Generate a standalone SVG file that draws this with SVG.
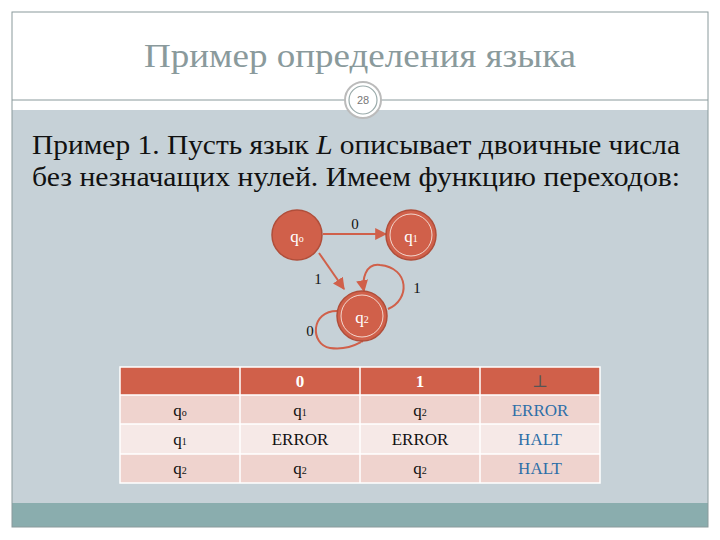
<svg xmlns="http://www.w3.org/2000/svg" width="720" height="540" viewBox="0 0 720 540">
<defs>
<style>
.s{font-family:"Liberation Serif","DejaVu Serif",serif}
.st{fill:#d0604a;stroke:#b04e3a;stroke-width:1.5}
.nl{fill:#fff;font-size:17px;text-anchor:middle}
.ed{fill:none;stroke:#d0604a;stroke-width:2}
.el{font-size:15px;fill:#111;text-anchor:middle}
.tc{font-size:17px;text-anchor:middle;fill:#111}
</style>
<marker id="a" viewBox="0 0 10 10" refX="9" refY="5" markerWidth="6" markerHeight="6" orient="auto"><path d="M0,0L10,5L0,10z" fill="#d0604a"/></marker>
</defs>
<rect width="720" height="540" fill="#fff"/>
<rect x="12" y="110" width="696" height="393" fill="#c6d1d7"/>
<rect x="12" y="503" width="696" height="24" fill="#8aadae"/>
<rect x="12" y="12" width="696" height="515" fill="none" stroke="#8a9a9c" stroke-width="1"/>
<line x1="12" y1="100" x2="708" y2="100" stroke="#8a9a9c"/>
<circle cx="363" cy="100" r="18" fill="#fff" stroke="#bbb" stroke-width="2"/>
<circle cx="363" cy="100" r="14" fill="#fff" stroke="#9aa" stroke-width="1.2"/>
<text x="363" y="104" font-size="11" fill="#777" text-anchor="middle" font-family="Liberation Sans,sans-serif">28</text>
<text x="360" y="67" class="s" font-size="34" fill="#8a9a9c" text-anchor="middle" textLength="432" lengthAdjust="spacingAndGlyphs">Пример определения языка</text>
<text x="32" y="154" class="s" font-size="28" fill="#111" textLength="648" lengthAdjust="spacingAndGlyphs">Пример 1. Пусть язык <tspan font-style="italic">L</tspan> описывает двоичные числа</text>
<text x="32" y="186" class="s" font-size="28" fill="#111" textLength="648" lengthAdjust="spacingAndGlyphs">без незначащих нулей. Имеем функцию переходов:</text>
<g id="edges">
<line class="ed" x1="323" y1="234" x2="386" y2="234" marker-end="url(#a)"/>
<line class="ed" x1="319" y1="253" x2="344" y2="289" marker-end="url(#a)"/>
<path class="ed" d="M388,309 C410,300 410,268 380,265 C365,263 362,280 364,291" marker-end="url(#a)"/>
<path class="ed" d="M338,311 C310,310 310,345 330,348 C352,351 362,340 362,342" marker-end="url(#a)"/>
<text class="el s" x="355" y="229">0</text>
<text class="el s" x="318" y="284">1</text>
<text class="el s" x="417" y="293">1</text>
<text class="el s" x="310" y="336">0</text>
</g>
<g id="q0"><circle class="st" cx="297" cy="235" r="25"/><text class="nl s" x="297" y="242">q<tspan font-size="10">o</tspan></text></g>
<g id="q1"><circle class="st" cx="411" cy="235" r="25" stroke-width="2.5"/><circle cx="411" cy="235" r="21" fill="none" stroke="#f3d8cf" stroke-width="1"/><text class="nl s" x="411" y="242">q<tspan font-size="10">1</tspan></text></g>
<g id="q2"><circle class="st" cx="362" cy="316" r="25" stroke-width="2.5"/><circle cx="362" cy="316" r="21" fill="none" stroke="#f3d8cf" stroke-width="1"/><text class="nl s" x="362" y="323">q<tspan font-size="10">2</tspan></text></g>
<g id="table" class="s">
<rect x="120" y="367" width="480" height="28" fill="#d0604a"/>
<rect x="120" y="395" width="480" height="29" fill="#efd3ce"/>
<rect x="120" y="424" width="480" height="30" fill="#f6e9e7"/>
<rect x="120" y="454" width="480" height="29" fill="#efd3ce"/>
<g stroke="#fff" stroke-width="1.5" fill="none">
<rect x="120" y="367" width="480" height="116"/>
<line x1="240" y1="367" x2="240" y2="483"/><line x1="360" y1="367" x2="360" y2="483"/><line x1="480" y1="367" x2="480" y2="483"/>
<line x1="120" y1="395" x2="600" y2="395"/><line x1="120" y1="424" x2="600" y2="424"/><line x1="120" y1="454" x2="600" y2="454"/>
</g>
<text class="tc" x="300" y="387" font-weight="bold" style="fill:#fff">0</text>
<text class="tc" x="420" y="387" font-weight="bold" style="fill:#fff">1</text>
<text class="tc" x="540" y="387" style="fill:#555">⊥</text>
<text class="tc" x="180" y="416">q<tspan font-size="10">o</tspan></text>
<text class="tc" x="300" y="416">q<tspan font-size="10">1</tspan></text>
<text class="tc" x="420" y="416">q<tspan font-size="10">2</tspan></text>
<text class="tc" x="540" y="416" style="fill:#2e6fa8">ERROR</text>
<text class="tc" x="180" y="445">q<tspan font-size="10">1</tspan></text>
<text class="tc" x="300" y="445">ERROR</text>
<text class="tc" x="420" y="445">ERROR</text>
<text class="tc" x="540" y="445" style="fill:#2e6fa8">HALT</text>
<text class="tc" x="180" y="474">q<tspan font-size="10">2</tspan></text>
<text class="tc" x="300" y="474">q<tspan font-size="10">2</tspan></text>
<text class="tc" x="420" y="474">q<tspan font-size="10">2</tspan></text>
<text class="tc" x="540" y="474" style="fill:#2e6fa8">HALT</text>
</g>
</svg>
